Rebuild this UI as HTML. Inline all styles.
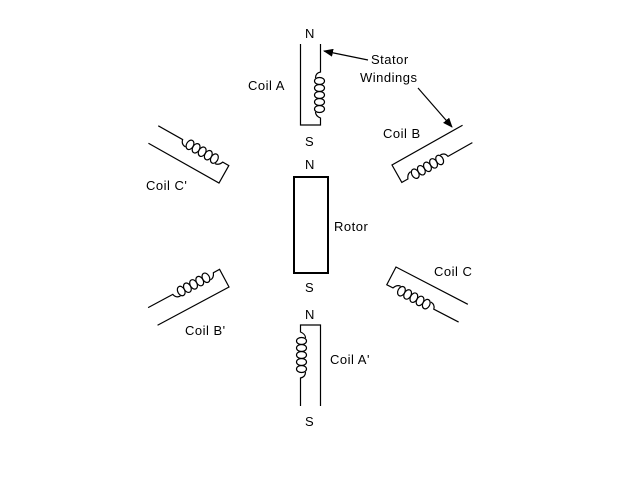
<!DOCTYPE html>
<html><head><meta charset="utf-8"><style>
html,body{margin:0;padding:0;background:#fff;}
svg{display:block;}
text{font-family:"Liberation Sans",sans-serif;font-size:13px;fill:#000;letter-spacing:0.5px;}
</style></head><body>
<svg width="640" height="480" viewBox="0 0 640 480" xmlns="http://www.w3.org/2000/svg">
<defs>
<g id="coil" fill="none" stroke="#000" stroke-width="1.2">
  <path d="M81,0 L0,0 L0,20 L7,20 Q9,15 13,15"/>
  <ellipse cx="16" cy="19" rx="3.5" ry="5"/>
  <ellipse cx="23" cy="19" rx="3.5" ry="5"/>
  <ellipse cx="30" cy="19" rx="3.5" ry="5"/>
  <ellipse cx="37" cy="19" rx="3.5" ry="5"/>
  <ellipse cx="44" cy="19" rx="3.5" ry="5"/>
  <path d="M47,15 Q52,15 53,20 L81,20"/>
</g>
<marker id="ah" markerWidth="10" markerHeight="8" refX="9" refY="4" orient="auto" markerUnits="userSpaceOnUse">
  <path d="M0,0 L10,4 L0,8 Z" fill="#000"/>
</marker>
</defs>

<use href="#coil" transform="matrix(0,-1,1,0,300.5,125)"/>
<use href="#coil" transform="matrix(0,1,-1,0,320.5,325)"/>
<use href="#coil" transform="matrix(0.871,-0.491,0.491,0.871,392,165)"/>
<use href="#coil" transform="matrix(0.887,0.461,-0.461,0.887,396,267)"/>
<use href="#coil" transform="matrix(-0.871,-0.491,0.491,-0.871,219,183)"/>
<use href="#coil" transform="matrix(-0.882,0.472,-0.472,-0.882,229,287)"/>

<rect x="294" y="177" width="34" height="96" fill="none" stroke="#000" stroke-width="2"/>

<line x1="368" y1="60" x2="324" y2="51" stroke="#000" stroke-width="1.2" marker-end="url(#ah)"/>
<line x1="418" y1="88" x2="452" y2="127" stroke="#000" stroke-width="1.2" marker-end="url(#ah)"/>

<text x="305" y="38">N</text>
<text x="305" y="146">S</text>
<text x="305" y="169">N</text>
<text x="305" y="292">S</text>
<text x="305" y="319">N</text>
<text x="305" y="426">S</text>
<text x="248" y="90">Coil A</text>
<text x="371" y="64">Stator</text>
<text x="360" y="82">Windings</text>
<text x="383" y="138">Coil B</text>
<text x="146" y="190">Coil C'</text>
<text x="334" y="231">Rotor</text>
<text x="434" y="276">Coil C</text>
<text x="185" y="335">Coil B'</text>
<text x="330" y="364">Coil A'</text>
</svg>
</body></html>
